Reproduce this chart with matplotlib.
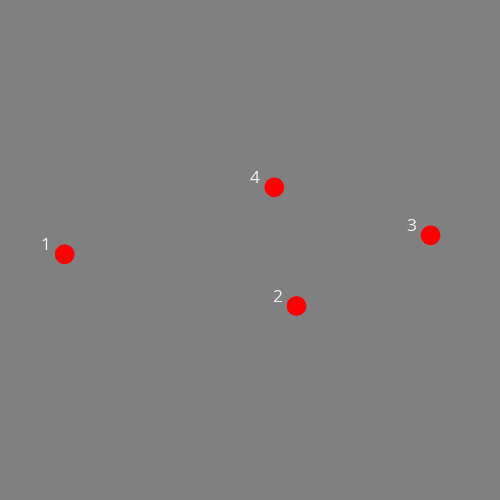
import matplotlib
matplotlib.use('Agg')
import matplotlib.pyplot as plt

# point positions (pixel-like coords, y goes down) and their labels
labels = ['1', '2', '3', '4']
xs = [64.7, 296.5, 430.5, 274.3]
ys = [254.3, 306.0, 235.3, 187.3]

fig = plt.figure(figsize=(5, 5), dpi=100, facecolor='#808080')
ax = fig.add_axes([0, 0, 1, 1])
ax.set_facecolor('#808080')
ax.set_xlim(0, 500)
ax.set_ylim(500, 0)
ax.axis('off')

ax.scatter(xs, ys, s=200, color='red', edgecolors='none', zorder=3)

for lab, x, y in zip(labels, xs, ys):
    ax.annotate(lab, (x, y), xytext=(-14, 6), textcoords='offset points',
                ha='center', va='center', color='#f2f2f2', fontsize=12.5,
                family=['Open Sans', 'DejaVu Sans'])

fig.savefig('out.png', dpi=100, facecolor='#808080')
